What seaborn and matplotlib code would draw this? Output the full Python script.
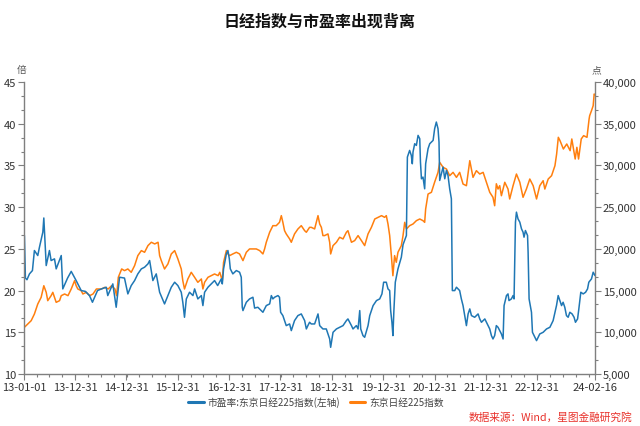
import matplotlib
matplotlib.use("Agg")
import matplotlib.pyplot as plt
import matplotlib.dates as mdates
from matplotlib.ticker import AutoMinorLocator, FuncFormatter, MultipleLocator
import seaborn as sns
import pandas as pd

# ---------------- data ----------------
pe_dates = [
    "2013-01-04", "2013-01-11", "2013-01-22", "2013-02-09", "2013-03-02", "2013-03-16",
    "2013-04-09", "2013-04-21", "2013-05-15", "2013-05-22", "2013-06-08", "2013-07-01",
    "2013-07-13", "2013-08-06", "2013-08-18", "2013-09-23", "2013-10-04", "2013-11-07",
    "2013-12-03", "2014-01-07", "2014-02-12", "2014-03-14", "2014-04-12", "2014-05-03",
    "2014-06-08", "2014-07-06", "2014-08-09", "2014-08-20", "2014-09-25", "2014-10-19",
    "2014-11-12", "2014-12-17", "2015-01-10", "2015-02-03", "2015-02-27", "2015-03-22",
    "2015-04-16", "2015-05-09", "2015-06-02", "2015-06-14", "2015-07-07", "2015-07-31",
    "2015-08-24", "2015-09-28", "2015-10-22", "2015-11-15", "2015-12-09", "2016-01-01",
    "2016-01-25", "2016-02-05", "2016-02-17", "2016-03-01", "2016-03-24", "2016-04-17",
    "2016-04-29", "2016-05-22", "2016-06-16", "2016-06-27", "2016-07-09", "2016-08-02",
    "2016-08-26", "2016-09-18", "2016-10-10", "2016-11-05", "2016-11-12", "2016-11-21",
    "2016-12-11", "2016-12-22", "2017-01-01", "2017-01-08", "2017-01-26", "2017-02-20",
    "2017-03-15", "2017-03-27", "2017-04-03", "2017-04-08", "2017-05-02", "2017-05-25",
    "2017-06-18", "2017-06-30", "2017-07-23", "2017-08-04", "2017-08-28", "2017-09-21",
    "2017-10-15", "2017-10-27", "2017-11-07", "2017-11-19", "2017-12-13", "2017-12-24",
    "2018-01-01", "2018-01-17", "2018-02-10", "2018-03-06", "2018-03-18", "2018-04-10",
    "2018-05-04", "2018-05-28", "2018-06-21", "2018-07-03", "2018-07-14", "2018-07-26",
    "2018-08-07", "2018-08-31", "2018-09-24", "2018-10-06", "2018-10-29", "2018-11-22",
    "2018-12-16", "2018-12-23", "2019-01-09", "2019-02-02", "2019-02-25", "2019-03-21",
    "2019-04-14", "2019-04-25", "2019-05-20", "2019-05-31", "2019-06-24", "2019-07-06",
    "2019-07-18", "2019-07-25", "2019-08-10", "2019-08-22", "2019-09-15", "2019-09-27",
    "2019-10-21", "2019-11-14", "2019-12-07", "2019-12-23", "2020-01-04", "2020-01-23",
    "2020-02-04", "2020-02-16", "2020-02-23", "2020-03-03", "2020-03-10", "2020-03-17",
    "2020-03-27", "2020-04-15", "2020-05-09", "2020-05-21", "2020-06-14", "2020-06-21",
    "2020-07-07", "2020-07-19", "2020-07-26", "2020-07-31", "2020-08-12", "2020-08-24",
    "2020-09-05", "2020-09-17", "2020-09-22", "2020-09-29", "2020-10-10", "2020-10-22",
    "2020-10-29", "2020-11-15", "2020-11-27", "2020-12-21", "2021-01-01", "2021-01-13",
    "2021-01-25", "2021-02-01", "2021-02-06", "2021-02-18", "2021-03-02", "2021-03-14",
    "2021-03-26", "2021-04-06", "2021-04-18", "2021-04-30", "2021-05-07", "2021-05-24",
    "2021-06-05", "2021-06-16", "2021-06-28", "2021-07-10", "2021-07-22", "2021-08-03",
    "2021-08-15", "2021-08-27", "2021-09-08", "2021-09-20", "2021-10-13", "2021-11-06",
    "2021-11-18", "2021-11-30", "2021-12-24", "2022-01-16", "2022-01-28", "2022-02-09",
    "2022-02-20", "2022-03-04", "2022-03-16", "2022-03-28", "2022-04-09", "2022-04-21",
    "2022-05-03", "2022-05-10", "2022-05-27", "2022-06-07", "2022-06-14", "2022-07-01",
    "2022-07-13", "2022-07-20", "2022-07-30", "2022-08-06", "2022-08-17", "2022-08-30",
    "2022-09-11", "2022-09-22", "2022-09-29", "2022-10-09", "2022-10-24", "2022-10-28",
    "2022-11-04", "2022-11-21", "2022-11-28", "2022-12-15", "2022-12-27", "2023-01-19",
    "2023-02-12", "2023-03-08", "2023-04-01", "2023-04-24", "2023-05-18", "2023-05-30",
    "2023-06-11", "2023-06-23", "2023-07-04", "2023-07-16", "2023-07-28", "2023-08-09",
    "2023-08-21", "2023-09-06", "2023-09-20", "2023-09-30", "2023-10-15", "2023-10-24",
    "2023-11-07", "2023-11-24", "2023-12-11", "2023-12-25", "2024-01-03", "2024-01-22",
    "2024-02-03", "2024-02-16",
]
pe_values = [
    26.6, 21.5, 21.3, 22.0, 22.4, 24.8,
    24.2, 25.2, 27.0, 28.7, 23.0, 24.8,
    23.6, 23.8, 22.6, 24.2, 20.2, 21.5,
    22.3, 21.2, 20.0, 19.9, 19.4, 18.6,
    20.0, 20.2, 20.4, 19.4, 20.8, 18.0,
    21.6, 21.5, 19.6, 20.6, 21.2, 22.0,
    22.6, 22.8, 23.2, 23.6, 21.2, 22.0,
    19.8, 18.4, 19.4, 20.4, 21.0, 20.6,
    19.8, 18.6, 16.8, 19.0, 19.8, 19.4,
    20.2, 19.0, 19.4, 18.2, 19.8, 20.4,
    20.8, 21.2, 20.6, 21.4, 20.8, 22.6,
    24.4, 24.8, 23.8, 22.6, 22.0, 22.4,
    22.2, 21.6, 18.0, 17.6, 18.6, 19.0,
    19.2, 17.9, 18.0, 17.8, 17.4, 18.2,
    18.4, 19.4, 19.0, 19.2, 19.4, 19.2,
    17.4, 17.0, 15.8, 16.0, 15.2, 16.4,
    17.0, 17.2, 16.4, 15.4, 15.8, 16.2,
    16.0, 16.0, 17.2, 15.8, 15.4, 15.4,
    14.2, 13.2, 15.0, 15.4, 15.6, 15.8,
    16.4, 16.6, 15.8, 15.4, 15.8, 15.4,
    17.6, 15.4, 14.6, 14.4, 15.8, 17.0,
    18.2, 18.8, 19.0, 19.6, 21.0, 21.0,
    20.2, 20.0, 17.6, 16.2, 14.6, 17.6,
    21.0, 22.6, 24.0, 25.5, 26.6, 36.0,
    36.8, 36.2, 35.2, 36.6, 37.6, 37.4,
    38.6, 38.2, 35.4, 33.4, 33.6, 32.2,
    35.2, 37.0, 37.6, 38.0, 39.4, 40.2,
    39.4, 37.8, 33.2, 34.0, 34.8, 33.4,
    34.4, 33.8, 32.2, 31.0, 20.0, 20.0,
    20.4, 20.2, 20.0, 19.0, 18.2, 17.0,
    15.8, 17.2, 17.8, 17.0, 16.8, 17.2,
    16.6, 16.2, 16.6, 15.8, 15.4, 14.6,
    14.2, 14.6, 15.8, 15.6, 15.2, 14.8,
    14.2, 18.2, 19.4, 19.6, 18.8, 19.0,
    19.4, 19.0, 28.2, 29.4, 28.6, 28.2,
    27.4, 27.0, 26.4, 27.2, 26.6, 24.6,
    19.0, 17.4, 15.0, 14.4, 14.0, 14.8,
    15.0, 15.4, 15.6, 16.4, 18.2, 19.4,
    18.8, 18.2, 18.6, 18.0, 17.0, 16.8,
    17.4, 17.2, 16.8, 16.2, 16.6, 17.8,
    19.8, 19.6, 19.8, 20.2, 21.0, 21.4,
    22.2, 21.8,
]

nk_dates = [
    "2013-01-04", "2013-01-28", "2013-02-21", "2013-03-16", "2013-04-09", "2013-05-03",
    "2013-05-22", "2013-06-08", "2013-06-19", "2013-07-13", "2013-07-25", "2013-08-06",
    "2013-08-18", "2013-09-11", "2013-09-23", "2013-10-17", "2013-11-10", "2013-12-03",
    "2013-12-27", "2014-01-07", "2014-01-19", "2014-02-12", "2014-02-24", "2014-03-20",
    "2014-04-13", "2014-05-07", "2014-05-31", "2014-07-06", "2014-07-30", "2014-08-23",
    "2014-09-16", "2014-10-10", "2014-10-22", "2014-11-03", "2014-11-27", "2014-12-17",
    "2015-01-10", "2015-02-03", "2015-02-27", "2015-03-22", "2015-04-16", "2015-05-09",
    "2015-06-02", "2015-06-26", "2015-07-20", "2015-08-13", "2015-08-24", "2015-09-05",
    "2015-09-28", "2015-10-22", "2015-11-15", "2015-12-09", "2016-01-01", "2016-01-25",
    "2016-02-05", "2016-02-17", "2016-03-12", "2016-04-05", "2016-04-29", "2016-05-22",
    "2016-06-16", "2016-06-27", "2016-07-09", "2016-08-02", "2016-08-26", "2016-09-18",
    "2016-10-13", "2016-10-25", "2016-11-12", "2016-11-21", "2016-12-11", "2016-12-22",
    "2017-01-03", "2017-01-26", "2017-02-20", "2017-03-15", "2017-03-27", "2017-04-08",
    "2017-05-02", "2017-05-25", "2017-06-18", "2017-07-12", "2017-08-05", "2017-08-28",
    "2017-09-09", "2017-09-21", "2017-10-15", "2017-11-07", "2017-12-01", "2017-12-24",
    "2018-01-06", "2018-01-17", "2018-01-29", "2018-02-10", "2018-03-06", "2018-03-18",
    "2018-04-10", "2018-05-04", "2018-05-28", "2018-06-21", "2018-07-03", "2018-07-26",
    "2018-08-07", "2018-08-31", "2018-09-24", "2018-10-06", "2018-10-18", "2018-10-29",
    "2018-11-10", "2018-12-04", "2018-12-16", "2018-12-23", "2019-01-09", "2019-02-02",
    "2019-02-25", "2019-03-21", "2019-04-14", "2019-04-25", "2019-05-20", "2019-06-12",
    "2019-07-06", "2019-07-30", "2019-08-22", "2019-09-15", "2019-10-09", "2019-11-02",
    "2019-11-26", "2019-12-20", "2020-01-11", "2020-01-23", "2020-02-04", "2020-02-16",
    "2020-02-28", "2020-03-10", "2020-03-22", "2020-04-03", "2020-04-15", "2020-05-09",
    "2020-05-21", "2020-06-02", "2020-06-14", "2020-07-07", "2020-07-31", "2020-08-24",
    "2020-09-17", "2020-10-10", "2020-10-22", "2020-10-29", "2020-11-15", "2020-12-09",
    "2021-01-01", "2021-01-25", "2021-02-06", "2021-03-02", "2021-03-26", "2021-04-18",
    "2021-05-12", "2021-06-05", "2021-06-28", "2021-07-22", "2021-08-15", "2021-09-08",
    "2021-10-01", "2021-10-25", "2021-11-18", "2021-12-12", "2022-01-04", "2022-01-28",
    "2022-02-20", "2022-03-04", "2022-03-16", "2022-03-28", "2022-04-09", "2022-04-21",
    "2022-05-15", "2022-06-07", "2022-06-19", "2022-07-13", "2022-08-06", "2022-08-30",
    "2022-09-22", "2022-10-16", "2022-11-09", "2022-12-03", "2022-12-27", "2023-01-19",
    "2023-02-12", "2023-02-24", "2023-03-20", "2023-04-13", "2023-05-07", "2023-05-19",
    "2023-05-31", "2023-06-12", "2023-07-06", "2023-07-30", "2023-08-23", "2023-09-04",
    "2023-09-28", "2023-10-10", "2023-10-22", "2023-11-10", "2023-11-27", "2023-12-21",
    "2024-01-05", "2024-01-09", "2024-01-22", "2024-02-03", "2024-02-10", "2024-02-16",
]
nk_values = [
    10600, 11000, 11390, 12190, 13390, 14190,
    15580, 14790, 13790, 14390, 14790, 14190,
    13590, 13790, 14390, 14590, 14390, 15190,
    16190, 15590, 15190, 14990, 14590, 14790,
    14390, 14590, 15190, 15190, 15390, 15190,
    15580, 15190, 14390, 16590, 17590, 17390,
    17590, 17190, 17990, 19190, 19790, 19590,
    20390, 20790, 20590, 20790, 19190, 18590,
    17590, 18190, 19390, 19790, 18790, 17590,
    16190, 15190, 16390, 17190, 16590, 15990,
    16390, 15190, 15990, 16590, 16790, 16990,
    16790, 17190, 16190, 18390, 19790, 19390,
    19190, 19390, 19590, 19390, 18990, 18590,
    19590, 19990, 19990, 19990, 19790, 19390,
    19990, 20790, 21990, 22780, 22780, 23180,
    23980, 23180, 22180, 21790, 21190, 20790,
    21790, 22380, 22780, 22180, 21990, 22580,
    22580, 22390, 23980, 22980, 22580, 21590,
    21590, 21790, 20790, 19390, 20390, 20790,
    21390, 21190, 21990, 22180, 20790, 20990,
    21590, 20990, 20390, 21790, 22580, 23580,
    23780, 23980, 23780, 23980, 22980, 21590,
    19190, 16780, 19190, 18390, 19590, 20390,
    21590, 23180, 22380, 22780, 22980, 23380,
    23580, 23380, 23180, 24780, 26570, 26780,
    28000, 29170, 30370, 29770, 29570, 28770,
    29170, 28570, 29170, 27770, 27570, 30570,
    28570, 29370, 28970, 29170, 27980, 26780,
    26180, 25170, 27800, 27170, 27570, 26370,
    27980, 27170, 25980, 27570, 28970, 27980,
    26180, 27170, 28370, 27570, 25980, 27570,
    28170, 27170, 28370, 28770, 29970, 31370,
    33370, 32970, 31970, 32570, 31770, 33170,
    30770, 32170, 30770, 33170, 33570, 33370,
    35560, 35960, 36560, 37160, 38560, 38490,
]

x_tick_dates = ["2013-01-01", "2013-12-31", "2014-12-31", "2015-12-31", "2016-12-31",
                "2017-12-31", "2018-12-31", "2019-12-31", "2020-12-31", "2021-12-31",
                "2022-12-31", "2024-02-16"]
x_tick_labels = ["13-01-01", "13-12-31", "14-12-31", "15-12-31", "16-12-31", "17-12-31",
                 "18-12-31", "19-12-31", "20-12-31", "21-12-31", "22-12-31", "24-02-16"]

title = "日经指数与市盈率出现背离"
pe_label = "市盈率:东京日经225指数(左轴)"
nk_label = "东京日经225指数"
source = "数据来源：Wind，星图金融研究院"

# ---------------- styling ----------------
sns.set_style("white")
plt.rcParams["font.family"] = ["Noto Sans CJK SC", "DejaVu Sans"]

BLUE = "#1f77b4"
ORANGE = "#ff7f0e"
AXIS = "#7f7f7f"
TXT = "#333333"

pe_df = pd.DataFrame({"date": pd.to_datetime(pe_dates), "pe": pe_values})
nk_df = pd.DataFrame({"date": pd.to_datetime(nk_dates), "nk": nk_values})

fig = plt.figure(figsize=(6.4, 4.27), dpi=100)
ax = fig.add_axes([24 / 640, 1 - 375 / 427, (595 - 24) / 640, (375 - 83) / 427])
ax2 = ax.twinx()

sns.lineplot(data=pe_df, x="date", y="pe", ax=ax, color=BLUE, linewidth=1.1, label=pe_label, legend=False)
sns.lineplot(data=nk_df, x="date", y="nk", ax=ax2, color=ORANGE, linewidth=1.1, label=nk_label, legend=False)
ax.set_zorder(ax2.get_zorder() + 1)
ax.patch.set_visible(False)

ax.set_xlim(pd.Timestamp("2013-01-01"), pd.Timestamp("2024-02-16"))
ax.set_ylim(10, 45)
ax2.set_ylim(5000, 40000)
ax.yaxis.set_major_locator(MultipleLocator(5))
ax.yaxis.set_minor_locator(AutoMinorLocator(3))
ax2.yaxis.set_major_locator(MultipleLocator(5000))
ax2.yaxis.set_minor_locator(AutoMinorLocator(3))
ax2.yaxis.set_major_formatter(FuncFormatter(lambda v, p: f"{int(v):,}"))

ax.set_xticks(pd.to_datetime(x_tick_dates))
ax.set_xticklabels(x_tick_labels)
ax.xaxis.set_minor_locator(mdates.MonthLocator(bymonth=[1, 4, 7, 10]))

for a in (ax, ax2):
    a.set_xlabel("")
    a.set_ylabel("")
    a.grid(False)
    for s in a.spines.values():
        s.set_visible(False)
ax.spines["left"].set_visible(True)
ax.spines["bottom"].set_visible(True)
ax2.spines["right"].set_visible(True)
for s in (ax.spines["left"], ax.spines["bottom"], ax2.spines["right"]):
    s.set_color(AXIS)
    s.set_linewidth(1.0)

ax.tick_params(axis="both", which="major", length=4, width=0.8, color=AXIS, labelsize=8, labelcolor=TXT, pad=1.5)
ax.tick_params(axis="both", which="minor", length=2.5, width=0.8, color=AXIS)
ax.tick_params(axis="y", which="both", left=True, right=False)
ax.tick_params(axis="x", which="both", bottom=True, top=False)
ax2.tick_params(axis="y", which="major", length=4, width=0.8, color=AXIS, labelsize=8, labelcolor=TXT, pad=1.5, right=True)
ax2.tick_params(axis="y", which="minor", length=2.5, width=0.8, color=AXIS, right=True)

fig.text(22 / 640, 1 - 70 / 427, "倍", ha="center", va="center", fontsize=7, color="#555555")
fig.text(596 / 640, 1 - 70 / 427, "点", ha="center", va="center", fontsize=7, color="#555555")

fig.text(0.5, 1 - 22 / 427, title, ha="center", va="center", fontsize=11.5, fontweight="bold", color="#111111")

h1, l1 = ax.get_legend_handles_labels()
h2, l2 = ax2.get_legend_handles_labels()
leg = fig.legend(h1 + h2, l1 + l2, loc="center", bbox_to_anchor=(316 / 640, 1 - 403 / 427),
                 ncol=2, frameon=False, fontsize=7, handlelength=1.6, handletextpad=0.4,
                 columnspacing=1.0, labelcolor="#444444")
for line in leg.get_lines():
    line.set_linewidth(2.2)

fig.text(632 / 640, 1 - 417 / 427, source, ha="right", va="center", fontsize=7.7, color="#e8302a")

fig.savefig("out.png", dpi=100)
